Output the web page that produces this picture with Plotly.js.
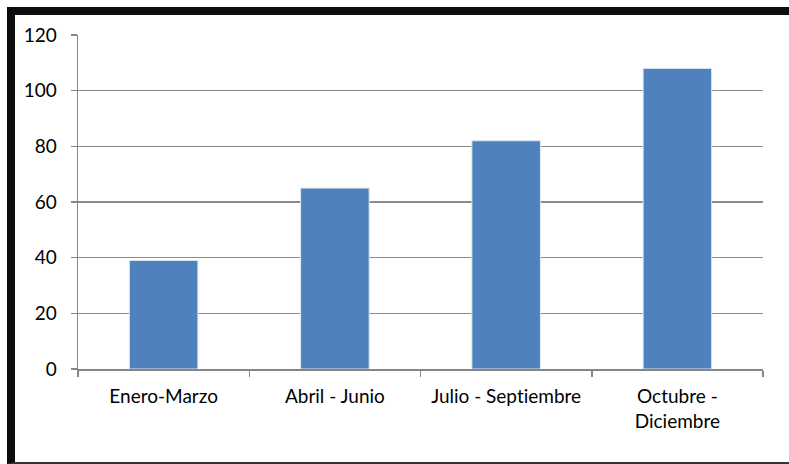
<!DOCTYPE html>
<html>
<head>
<meta charset="utf-8">
<script src="https://cdn.plot.ly/plotly-3.0.1.min.js"></script>
<style>
  html, body { margin: 0; padding: 0; background: #fff; overflow: hidden; }
  #wrap { position: relative; width: 789px; height: 464px; }
  #chart { position: absolute; left: 0; top: 0; width: 789px; height: 464px; }
  #chart text { font-variant-ligatures: none; font-feature-settings: "liga" 0; }
  #frame { position: absolute; left: 7px; top: 7px; width: 800px; height: 447px;
           border-left: 8px solid #0d0d0d; border-top: 8px solid #0d0d0d;
           border-bottom: 2px solid #333; pointer-events: none; }
</style>
</head>
<body>
<div id="wrap">
  <div id="chart"></div>
  <div id="frame"></div>
</div>
<script>
const categories = ["Enero-Marzo", "Abril - Junio", "Julio - Septiembre", "Octubre -<br>Diciembre"];
const values = [39, 65, 82, 108];
const yTicks = [0, 20, 40, 60, 80, 100, 120];

const labelFont = { family: "Lato, 'Open Sans', sans-serif", size: 19, color: "#000" };

const trace = {
  type: "bar",
  x: categories,
  y: values,
  marker: { color: "#4F81BD", line: { color: "#dbe5f1", width: 1 } },
  hoverinfo: "x+y"
};

const layout = {
  width: 789,
  height: 464,
  margin: { l: 78, r: 26, t: 35, b: 95, pad: 0 },
  paper_bgcolor: "rgba(0,0,0,0)",
  plot_bgcolor: "#ffffff",
  showlegend: false,
  bargap: 0.6,
  font: labelFont,
  xaxis: {
    type: "category",
    tickson: "boundaries",
    ticks: "outside",
    ticklen: 6,
    tickcolor: "#868686",
    tickwidth: 1.5,
    showline: true,
    linecolor: "#868686",
    linewidth: 1.5,
    showgrid: false,
    zeroline: false,
    ticklabelstandoff: 10,
    tickfont: labelFont
  },
  yaxis: {
    range: [0, 120],
    tickvals: yTicks,
    ticktext: yTicks.map(String),
    ticks: "outside",
    ticklen: 6,
    tickcolor: "#868686",
    tickwidth: 1.5,
    showline: true,
    linecolor: "#868686",
    linewidth: 1.5,
    showgrid: true,
    gridcolor: "#8a8a8a",
    gridwidth: 1.5,
    zeroline: false,
    ticklabelstandoff: 10,
    tickfont: labelFont
  }
};

Plotly.newPlot("chart", [trace], layout, { staticPlot: true, displayModeBar: false });
</script>
</body>
</html>
